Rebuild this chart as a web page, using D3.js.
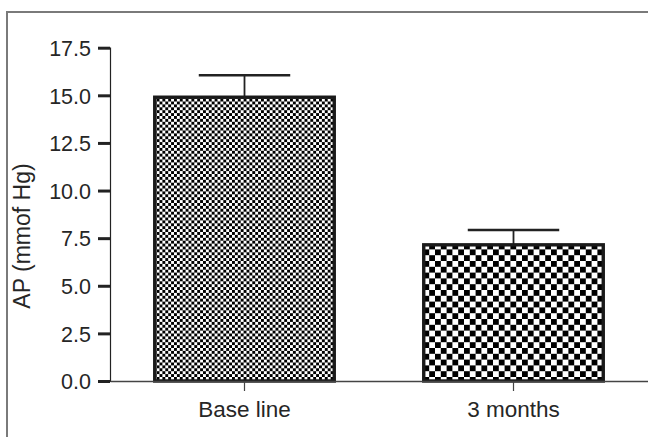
<!DOCTYPE html>
<html>
<head>
<meta charset="utf-8">
<script src="https://cdn.jsdelivr.net/npm/d3@7"></script>
<style>
  html, body { margin: 0; padding: 0; background: #fff; overflow: hidden; width: 648px; height: 437px; }
  #chart { position: absolute; left: 0; top: 0; }
  svg { display: block; }
  text { font-family: "Liberation Sans", Arial, sans-serif; fill: #262626; }
</style>
</head>
<body>
<div id="chart"></div>
<script>
// data
let categories = ["Base line", "3 months"];
let means = [14.9, 7.15];
let sems = [1.15, 0.78];
let yTicks = [0, 2.5, 5, 7.5, 10, 12.5, 15, 17.5];
let patternCells = [2.9, 5.8]; // checker size per bar

let width = 648;
let height = 437;

let svg = d3.select("#chart")
    .append("svg")
    .attr("width", width)
    .attr("height", height);

// outer frame (cut off at right and bottom)
svg.append("path")
    .attr("d", "M7,437 V12 H648")
    .attr("fill", "none")
    .attr("stroke", "#7a7a7a")
    .attr("stroke-width", 2);

// checker patterns
let defs = svg.append("defs");
patternCells.forEach((c, i) => {
    let p = defs.append("pattern")
        .attr("id", "check" + i)
        .attr("patternUnits", "userSpaceOnUse")
        .attr("width", c * 2)
        .attr("height", c * 2);
    p.append("rect").attr("width", c * 2).attr("height", c * 2).attr("fill", "#fff");
    p.append("rect").attr("width", c).attr("height", c).attr("fill", "#000");
    p.append("rect").attr("x", c).attr("y", c).attr("width", c).attr("height", c).attr("fill", "#000");
});

let x = d3.scaleBand()
    .domain(categories)
    .range([110, 648])
    .paddingInner(0.32)
    .paddingOuter(0.16);

let y = d3.scaleLinear()
    .domain([0, 17.5])
    .range([381, 47.7]);

let data = categories.map((c, i) => ({ cat: c, mean: means[i], sem: sems[i], i: i }));

// error bars
let errs = svg.selectAll(".err")
    .data(data)
    .enter()
    .append("g")
    .attr("class", "err");

errs.append("line")
    .attr("x1", d => x(d.cat) + x.bandwidth() / 2)
    .attr("x2", d => x(d.cat) + x.bandwidth() / 2)
    .attr("y1", d => y(d.mean))
    .attr("y2", d => y(d.mean + d.sem))
    .attr("stroke", "#222")
    .attr("stroke-width", 1.8);

errs.append("line")
    .attr("x1", d => x(d.cat) + x.bandwidth() / 4)
    .attr("x2", d => x(d.cat) + x.bandwidth() * 3 / 4)
    .attr("y1", d => y(d.mean + d.sem))
    .attr("y2", d => y(d.mean + d.sem))
    .attr("stroke", "#222")
    .attr("stroke-width", 2.6);

// bars
svg.selectAll(".bar")
    .data(data)
    .enter()
    .append("rect")
    .attr("class", "bar")
    .attr("x", d => x(d.cat) + 1.7)
    .attr("width", x.bandwidth() - 3.4)
    .attr("y", d => y(d.mean))
    .attr("height", d => y(0) - y(d.mean))
    .attr("fill", d => "url(#check" + d.i + ")")
    .attr("stroke", "#1a1a1a")
    .attr("stroke-width", 3.4);

// y axis
let yAxis = svg.append("g")
    .attr("transform", "translate(110,0)")
    .call(d3.axisLeft(y)
        .tickValues(yTicks)
        .tickFormat(d3.format(".1f"))
        .tickSize(12)
        .tickPadding(7));
yAxis.select(".domain").attr("stroke", "#222").attr("stroke-width", 1.2);
yAxis.selectAll(".tick line").attr("stroke", "#222").attr("stroke-width", 3);
yAxis.selectAll(".tick text")
    .attr("font-size", 21.5)
    .attr("fill", "#262626")
    .attr("dy", "0.36em")
    .style("font-family", "'Liberation Sans', Arial, sans-serif");

// x axis
let xAxis = svg.append("g")
    .attr("transform", "translate(0,381)")
    .call(d3.axisBottom(x)
        .tickSize(10)
        .tickSizeOuter(0)
        .tickPadding(10));
xAxis.select(".domain").attr("stroke", "#444").attr("stroke-width", 1.5);
xAxis.selectAll(".tick line").attr("stroke", "#444").attr("stroke-width", 1.2);
xAxis.selectAll(".tick text")
    .attr("font-size", 22.5)
    .attr("fill", "#262626")
    .style("font-family", "'Liberation Sans', Arial, sans-serif");

// y title
svg.append("text")
    .attr("transform", "translate(30,236) rotate(-90)")
    .attr("text-anchor", "middle")
    .attr("font-size", 23)
    .text("AP (mmof Hg)");
</script>
</body>
</html>
